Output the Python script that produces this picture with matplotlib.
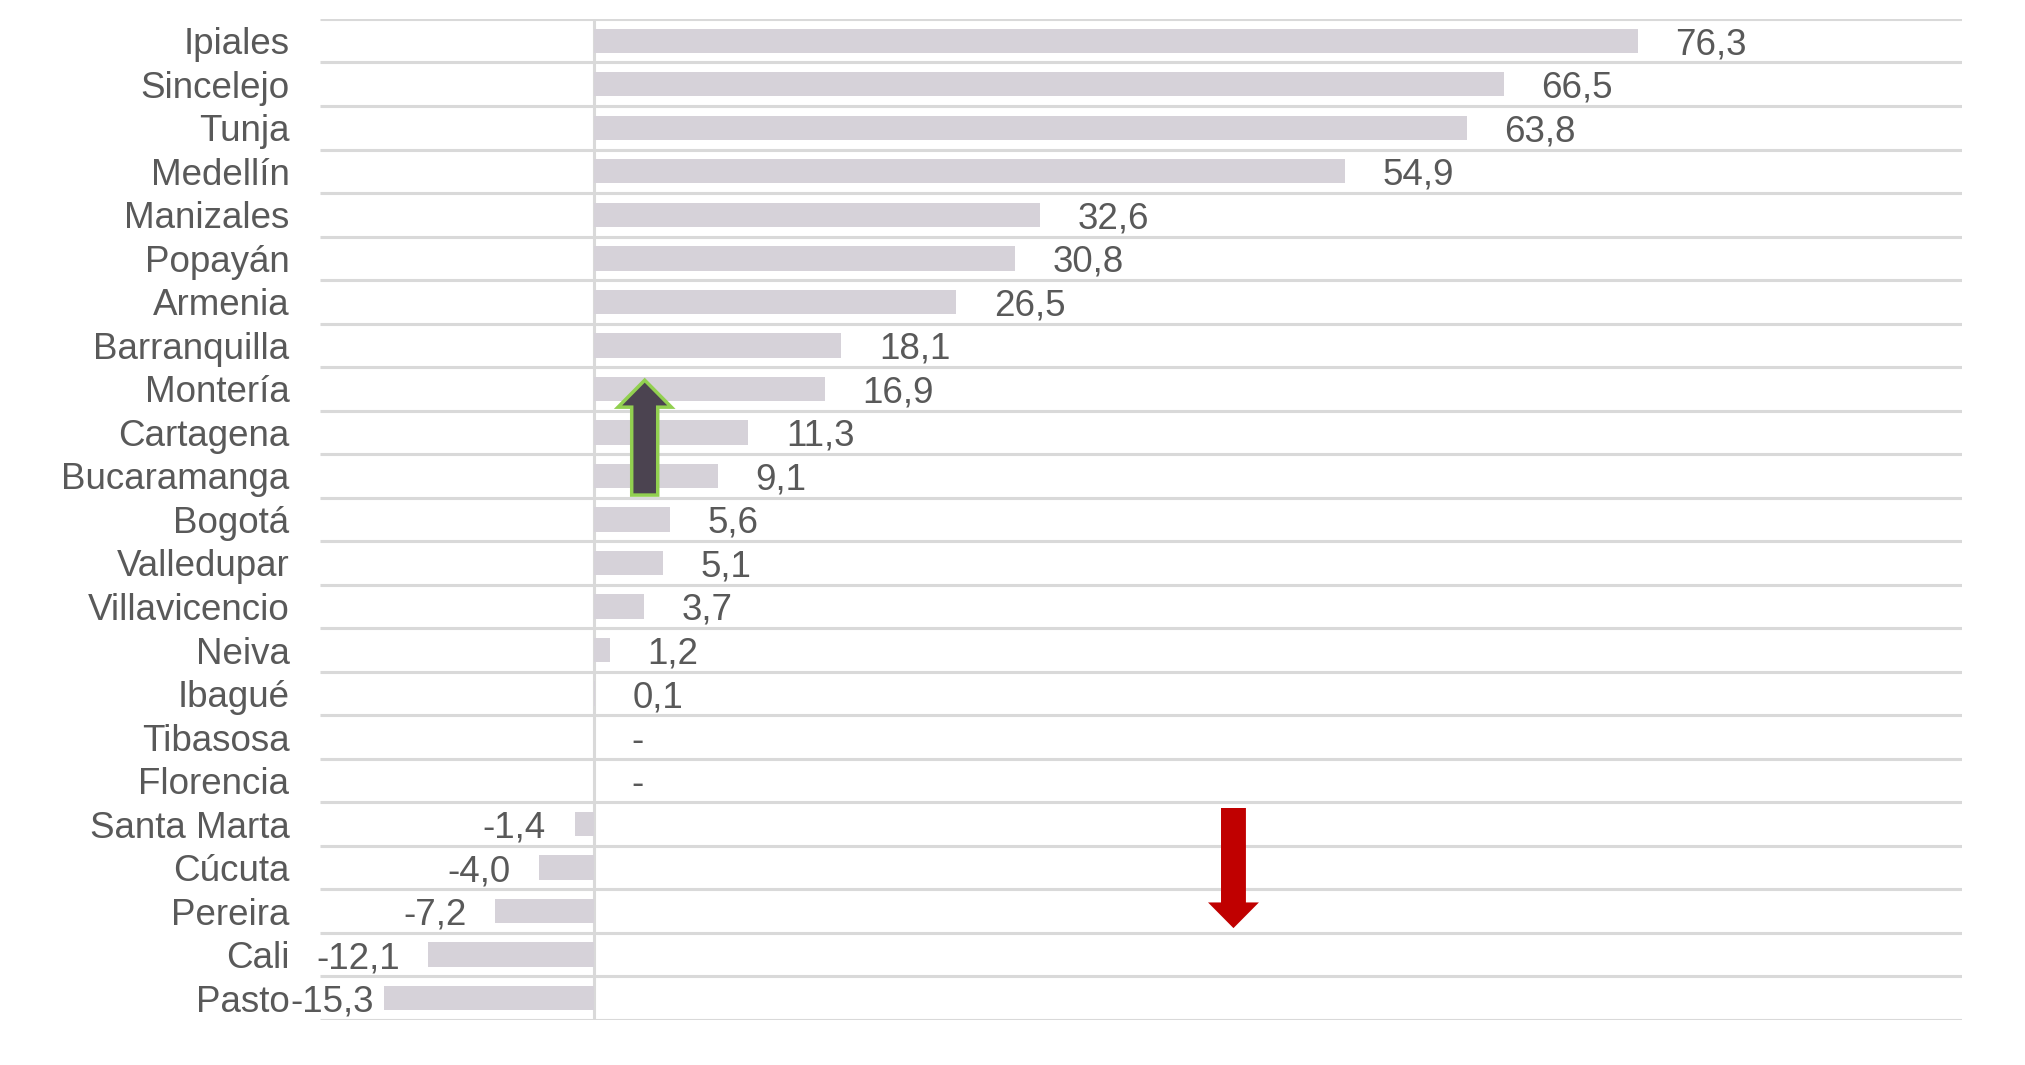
import matplotlib.pyplot as plt
from matplotlib.patches import Polygon

ciudades = ['Ipiales', 'Sincelejo', 'Tunja', 'Medellín', 'Manizales', 'Popayán',
            'Armenia', 'Barranquilla', 'Montería', 'Cartagena', 'Bucaramanga',
            'Bogotá', 'Valledupar', 'Villavicencio', 'Neiva', 'Ibagué', 'Tibasosa',
            'Florencia', 'Santa Marta', 'Cúcuta', 'Pereira', 'Cali', 'Pasto']
variacion = [76.3, 66.5, 63.8, 54.9, 32.6, 30.8, 26.5, 18.1, 16.9, 11.3, 9.1,
             5.6, 5.1, 3.7, 1.2, 0.1, 0.0, 0.0, -1.4, -4.0, -7.2, -12.1, -15.3]

bar_color = '#D6D2D9'
grid_color = '#D9D9D9'
text_color = '#595959'

plt.rcParams['font.family'] = ['Liberation Sans', 'DejaVu Sans']

fig = plt.figure(figsize=(20.25, 10.65), dpi=100)
ax = fig.add_axes([0.158, 0.0423, 0.811, 0.9399])

y = list(range(len(ciudades)))
ax.barh(y, variacion, height=0.56, color=bar_color, zorder=2)

# category boundary lines and zero line
ax.hlines([i - 0.5 for i in range(len(ciudades) + 1)], -20, 100,
          color=grid_color, lw=2.2, zorder=1)
ax.vlines(0, -0.5, len(ciudades) - 0.5, color=grid_color, lw=2.2, zorder=1)

ax.set_xlim(-20, 100)
ax.set_ylim(len(ciudades) - 0.5, -0.5)

labels = []
for yi, v in zip(y, variacion):
    txt = '-' if v == 0 else f'{v:.1f}'.replace('.', ',')
    if v >= 0:
        t = ax.annotate(txt, (v, yi), xytext=(27, 0), textcoords='offset points',
                        ha='left', va='center_baseline', fontsize=26.5, color=text_color)
    else:
        t = ax.annotate(txt, (v, yi), xytext=(-20.5, 0), textcoords='offset points',
                        ha='right', va='center_baseline', fontsize=26.5, color=text_color)
    labels.append(t)

ax.set_yticks(y)
ax.set_yticklabels(ciudades, fontsize=26.5, color=text_color)
ax.tick_params(axis='y', length=0, pad=22)
ax.set_xticks([])
for s in ax.spines.values():
    s.set_visible(False)

# keep negative labels from running past the left edge of the chart area
fig.canvas.draw()
left_px = 290
for t in labels:
    bb = t.get_window_extent()
    if bb.x0 < left_px:
        dx = (left_px - bb.x0) * 72 / fig.dpi
        ox, oy = t.xyann
        t.xyann = (ox + dx, oy)

# up arrow (green outline)
up = Polygon([(3.73 - 0.95, 10.44), (3.73 - 0.95, 8.42), (3.73 - 1.95, 8.42),
              (3.73, 7.8), (3.73 + 1.95, 8.42), (3.73 + 0.95, 8.42),
              (3.73 + 0.95, 10.44)],
             closed=True, facecolor='#4B4350', edgecolor='#92D050', lw=2.5, zorder=4)
ax.add_patch(up)

# down arrow (red)
down = Polygon([(46.75 - 0.91, 17.63), (46.75 - 0.91, 19.8), (46.75 - 1.86, 19.8),
                (46.75, 20.39), (46.75 + 1.86, 19.8), (46.75 + 0.91, 19.8),
                (46.75 + 0.91, 17.63)],
               closed=True, facecolor='#C00000', edgecolor='none', zorder=4)
ax.add_patch(down)

fig.savefig('out.png', dpi=100, facecolor='white')
